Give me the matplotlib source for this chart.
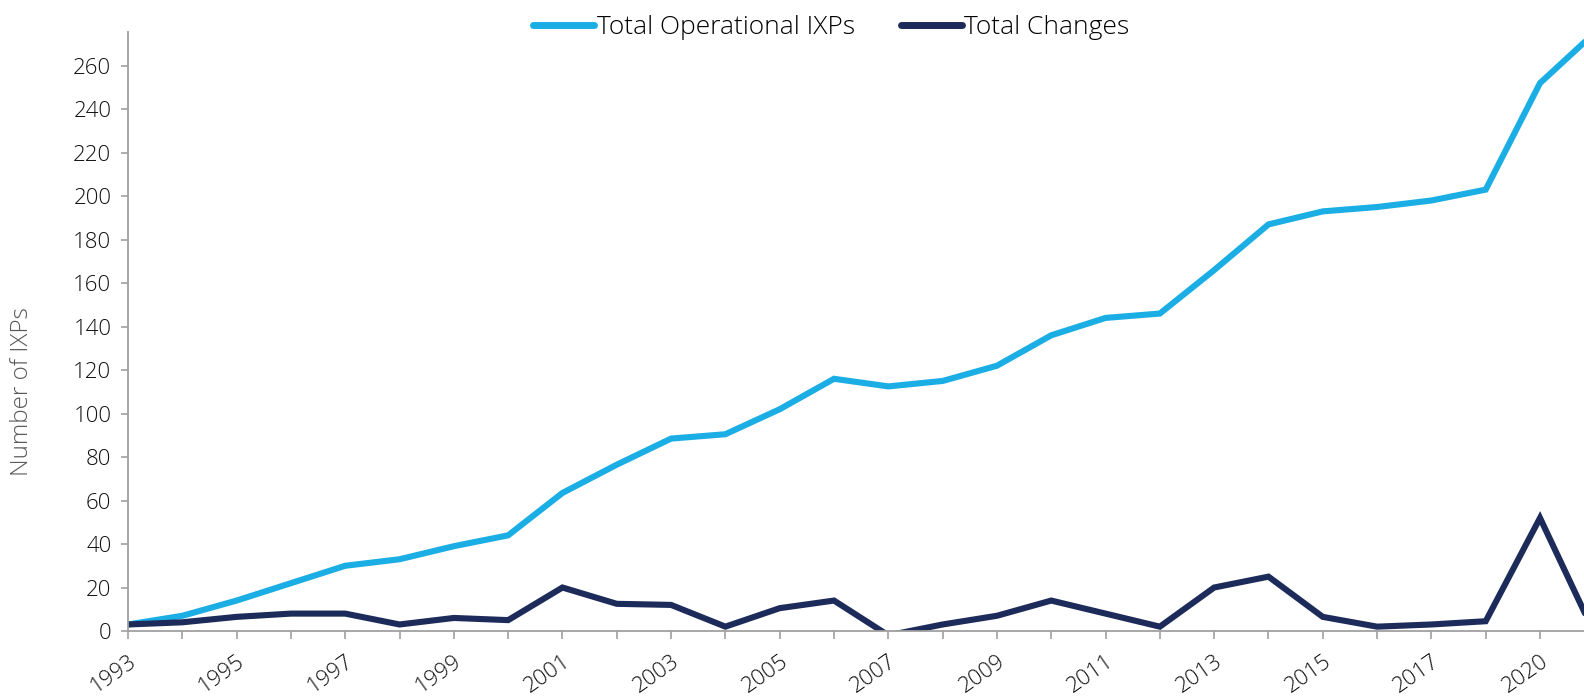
import matplotlib
matplotlib.use('Agg')
import matplotlib.pyplot as plt

plt.rcParams['font.family'] = ['Open Sans', 'DejaVu Sans']

CYAN = '#1AAEE5'
NAVY = '#1C2B59'
GREY = '#A0A0A0'

# ── Data ─────────────────────────────────────────────────────────────────────
years = ['1993', '1994', '1995', '1996', '1997', '1998', '1999', '2000',
         '2001', '2002', '2003', '2004', '2005', '2006', '2007', '2008',
         '2009', '2010', '2011', '2012', '2013', '2014', '2015', '2016',
         '2017', '2018', '2020', '2021']
total_ixps = [3, 7, 14, 22, 30, 33, 39, 44,
              63.5, 76.5, 88.5, 90.5, 102, 116, 112.5, 115,
              122, 136, 144, 146, 166, 187, 193, 195,
              198, 203, 252, 275]
total_changes = [3, 4, 6.5, 8, 8, 3, 6, 5,
                 20, 12.5, 12, 2, 10.5, 14, -2, 3,
                 7, 14, 8, 2, 20, 25, 6.5, 2,
                 3, 4.5, 52, -1]

# ── Figure ────────────────────────────────────────────────────────────────────
fig = plt.figure(figsize=(15.84, 6.97), dpi=100)
ax = fig.add_axes([128 / 1584, 1 - 631 / 697, 1 - 128 / 1584, (631 - 32) / 697])

x = list(range(len(years)))
ax.plot(x, total_ixps, color=CYAN, lw=4.4, solid_joinstyle='miter',
        solid_capstyle='round', label='Total Operational IXPs')
ax.plot(x, total_changes, color=NAVY, lw=4.4, solid_joinstyle='miter',
        solid_capstyle='round', label='Total Changes')

ax.set_xticks(x)
ax.set_xticklabels([y if i % 2 == 0 else '' for i, y in enumerate(years)],
                   rotation=35, ha='right', va='top', rotation_mode='anchor')
ax.set_yticks(range(0, 261, 20))
# limits after the ticks so the last tick does not widen the view
ax.set_xlim(0, 26.81)
ax.set_ylim(0, 275.5)

for s in ['top', 'right']:
    ax.spines[s].set_visible(False)
for s in ['left', 'bottom']:
    ax.spines[s].set_color(GREY)
    ax.spines[s].set_linewidth(1.3)

ax.tick_params(axis='y', length=5, width=1.2, color=GREY, labelsize=16,
               labelcolor='#111111', pad=7)
ax.tick_params(axis='x', length=6, width=1.2, color=GREY, labelsize=16,
               labelcolor='#111111', pad=8)
for lab in ax.get_xticklabels() + ax.get_yticklabels():
    lab.set_fontweight('light')

ax.set_ylabel('Number of IXPs', fontsize=17.5, color='#595959',
              fontweight='light', va='center')
ax.yaxis.set_label_coords(-0.0728, 0.40)

leg = fig.legend(loc='center', bbox_to_anchor=(0.525, 1 - 28 / 697), ncol=2,
                 frameon=False, handlelength=2.3,
                 handletextpad=0.1, columnspacing=1.75,
                 prop={'size': 19, 'weight': 'light'})
for line in leg.get_lines():
    line.set_linewidth(5)
    line.set_solid_capstyle('round')

fig.savefig('out.png', dpi=100)
